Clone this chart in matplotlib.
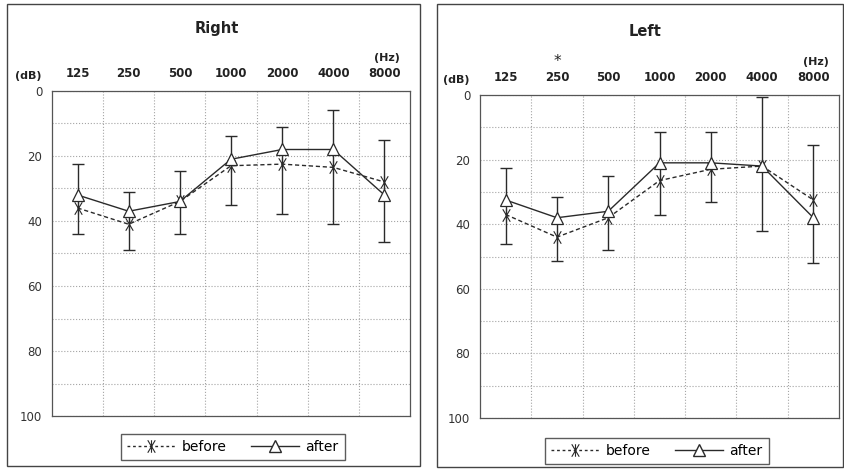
import matplotlib
matplotlib.use("Agg")
import matplotlib.pyplot as plt
from matplotlib.path import Path
from matplotlib.patches import Rectangle
from matplotlib.lines import Line2D

plt.rcParams['font.family'] = ['DejaVu Sans']

# ---------------------------
# Data (dB hearing level per frequency)
# ---------------------------
freqs = ['125', '250', '500', '1000', '2000', '4000', '8000']

right_before = [36, 41, 34, 23, 22.5, 23.5, 28]
right_after = [32, 37, 34, 21, 18, 18, 32]
right_err_top = [22.5, 31, 24.5, 14, 11, 6, 15]
right_err_bottom = [44, 49, 44, 35, 38, 41, 46.5]

left_before = [37, 44, 38, 26.5, 23, 22, 32.5]
left_after = [32.5, 38, 36, 21, 21, 22, 38]
left_err_top = [22.5, 31.5, 25, 11.5, 11.5, 0.5, 15.5]
left_err_bottom = [46, 51.5, 48, 37, 33, 42, 52]

# "ж"-like marker: an X with a vertical stroke
ast_marker = Path(
    [(-0.6, -1), (0.6, 1), (-0.6, 1), (0.6, -1), (0, -1), (0, 1)],
    [Path.MOVETO, Path.LINETO, Path.MOVETO, Path.LINETO, Path.MOVETO, Path.LINETO],
)

ink = '#2a2a2a'
W, H = 845, 469


def px_box(x0, y0, x1, y1):
    # pixel box (top-left origin) -> figure fraction [l, b, w, h]
    return [x0 / W, 1 - y1 / H, (x1 - x0) / W, (y1 - y0) / H]


fig = plt.figure(figsize=(8.45, 4.69), dpi=100)


def panel(box, frame, title, title_xy, before, after, err_top, err_bottom, legend_xy, star=False):
    # outer frame
    fx0, fy0, fx1, fy1 = frame
    fig.patches.append(Rectangle((fx0 / W, 1 - fy1 / H), (fx1 - fx0) / W, (fy1 - fy0) / H,
                                 transform=fig.transFigure, fill=False,
                                 edgecolor='#444444', linewidth=1.0))

    ax = fig.add_axes(px_box(*box))
    x = list(range(len(freqs)))

    # error bars
    mid = [(a + b) / 2 for a, b in zip(err_top, err_bottom)]
    half = [(b - a) / 2 for a, b in zip(err_top, err_bottom)]
    ax.errorbar(x, mid, yerr=half, fmt='none', ecolor=ink, elinewidth=1.0,
                capsize=4, capthick=1.0, zorder=2)

    ax.plot(x, before, color=ink, linestyle=(0, (3, 2)), linewidth=1.0,
            marker=ast_marker, markersize=9, markeredgewidth=0.8, zorder=3)
    ax.plot(x, after, color=ink, linestyle='-', linewidth=1.0,
            marker='^', markersize=9, markerfacecolor='white',
            markeredgecolor=ink, markeredgewidth=0.9, zorder=4)

    ax.set_xlim(-0.5, len(freqs) - 0.5)
    ax.set_ylim(100, 0)
    ax.set_xticks(x)
    ax.set_xticklabels(freqs, fontsize=8.5, fontweight='bold', color='#222222')
    ax.xaxis.tick_top()
    ax.set_xticks([i + 0.5 for i in x[:-1]], minor=True)
    ax.set_yticks([0, 20, 40, 60, 80, 100])
    ax.set_yticks(range(10, 100, 20), minor=True)
    ax.tick_params(axis='x', which='both', length=0, pad=8)
    ax.tick_params(axis='y', which='both', length=0, pad=7, labelsize=8.5, labelcolor='#333333')
    ax.grid(True, which='minor', color='#a5a5a5', linestyle=':', linewidth=0.8)
    ax.grid(True, which='major', axis='y', color='#a5a5a5', linestyle=':', linewidth=0.8)
    for s in ax.spines.values():
        s.set_color('#555555')
        s.set_linewidth(0.9)

    bx0, by0, bx1, by1 = box
    fig.text(title_xy[0] / W, 1 - title_xy[1] / H, title, ha='center', va='center',
             fontsize=10.5, fontweight='bold', color='#222222')
    fig.text((bx0 - 24) / W, 1 - (by0 - 15) / H, '(dB)', ha='center', va='center',
             fontsize=8, fontweight='bold', color='#222222')
    fig.text((bx1 - 23) / W, 1 - (by0 - 33) / H, '(Hz)', ha='center', va='center',
             fontsize=8, fontweight='bold', color='#222222')
    if star:
        cw = (bx1 - bx0) / len(freqs)
        fig.text((bx0 + 1.5 * cw) / W, 1 - (by0 - 34) / H, '*', ha='center', va='center',
                 fontsize=11, color='#222222')

    handles = [
        Line2D([], [], color=ink, linestyle=(0, (2, 2)), linewidth=1.0,
               marker=ast_marker, markersize=9, markeredgewidth=0.8),
        Line2D([], [], color=ink, linestyle='-', linewidth=1.0, marker='^',
               markersize=9, markerfacecolor='white', markeredgecolor=ink),
    ]
    leg = fig.legend(handles, ['before', 'after'], loc='center',
                     bbox_to_anchor=(legend_xy[0] / W, 1 - legend_xy[1] / H),
                     ncol=2, frameon=True, fancybox=False, fontsize=10,
                     handlelength=3.4, columnspacing=1.8, handletextpad=0.5,
                     borderpad=0.45)
    leg.get_frame().set_edgecolor('#333333')
    leg.get_frame().set_linewidth(1.0)
    return ax


panel((52, 91, 410, 416), (7, 4, 420, 466), 'Right', (217, 28),
      right_before, right_after, right_err_top, right_err_bottom, (233, 447))
panel((480, 95, 839, 418), (437, 4, 843, 467), 'Left', (645, 32),
      left_before, left_after, left_err_top, left_err_bottom, (657, 451), star=True)

fig.savefig('out.png', dpi=100)
